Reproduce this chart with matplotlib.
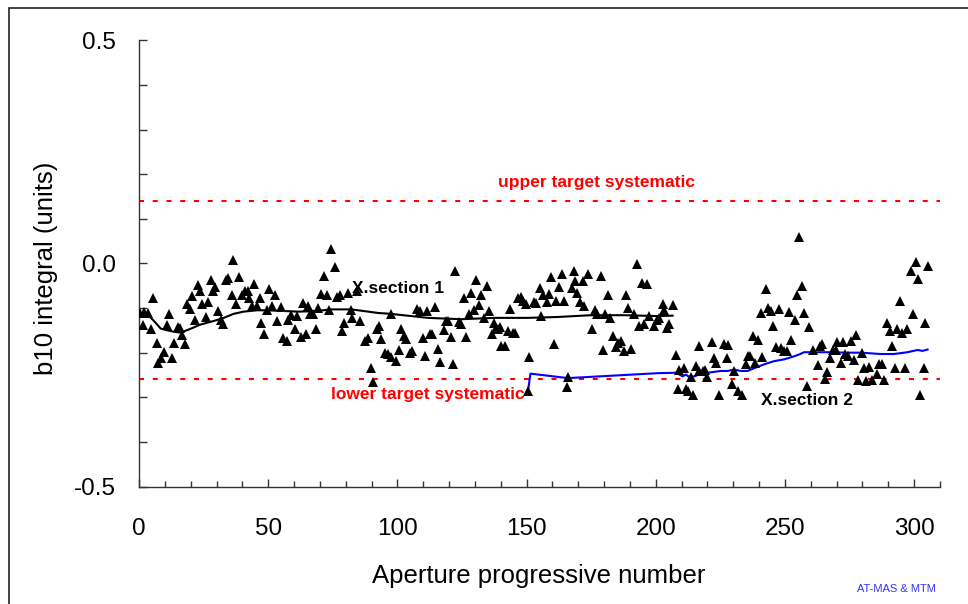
import matplotlib
matplotlib.use("Agg")
import matplotlib.pyplot as plt
from matplotlib.patches import Rectangle
from matplotlib.ticker import MultipleLocator

plt.rcParams["font.family"] = ["Liberation Sans", "DejaVu Sans"]

# aperture data, cross-section 1
sec1_x = [0.4, 1.7, 2.1, 3.6, 4.5, 5.5, 6.8, 7.5, 8.5, 9.8, 10.7, 11.7, 12.6, 13.5, 15.0, 15.9,
          16.5, 17.8, 18.4, 19.7, 20.6, 21.6, 22.7, 23.6, 24.5, 25.8, 26.6, 27.8, 28.7, 29.4,
          30.7, 31.7, 32.4, 33.5, 34.5, 35.8, 36.5, 37.4, 38.8, 39.7, 41.0, 42.1, 42.5, 43.6,
          44.6, 45.5, 46.8, 47.4, 48.5, 49.6, 50.3, 51.5, 52.6, 53.5, 54.8, 55.8, 57.1, 57.7,
          59.0, 60.3, 61.2, 62.6, 63.5, 64.8, 65.5, 66.1, 67.4, 68.4, 69.3, 70.4, 71.5, 72.8,
          73.4, 74.5, 75.8, 76.8, 77.7, 78.6, 79.4, 80.7, 82.0, 82.6, 84.2, 85.4, 87.4, 88.7,
          89.7, 90.6, 92.3, 93.0, 93.8, 95.1, 96.4, 97.4, 97.7, 99.6, 100.5, 101.5, 102.6,
          103.5, 104.8, 105.7, 107.7, 108.6, 109.9, 110.5, 111.5, 112.5, 113.5, 114.4, 115.7,
          116.6, 117.9, 118.7, 119.6, 120.9, 121.5, 122.4, 123.7, 124.5, 125.8, 126.7, 127.6,
          128.6, 129.6, 130.5, 131.4, 132.5, 133.7, 134.8, 135.6, 136.6, 137.4, 138.2, 139.1,
          139.9, 140.2, 141.5, 142.8, 143.4, 144.7, 145.6, 146.7, 147.7, 148.6, 149.6, 150.8,
          152.8, 153.7, 155.0, 155.4, 156.3, 157.8, 158.5, 159.5, 160.5, 161.5, 162.7, 163.6,
          164.4, 167.5, 168.5, 168.8, 169.6, 170.8, 171.7, 172.4, 173.7, 175.4, 176.6, 177.3,
          178.9, 179.6, 180.5, 181.7, 182.4, 183.3, 184.6, 185.3, 186.6, 187.6, 188.5, 189.4,
          190.4, 191.5, 192.8, 193.7, 194.6, 195.6, 196.6, 197.5, 199.2, 200.5, 201.4, 202.7,
          203.3, 204.4, 205.0, 206.5]
sec1_y = [-0.111, -0.137, -0.108, -0.111, -0.148, -0.077, -0.178, -0.223, -0.211, -0.198, -0.137,
          -0.113, -0.213, -0.178, -0.143, -0.145, -0.161, -0.180, -0.092, -0.101, -0.073, -0.126,
          -0.049, -0.061, -0.090, -0.120, -0.087, -0.038, -0.062, -0.053, -0.107, -0.126, -0.135,
          -0.038, -0.032, -0.070, 0.007, -0.092, -0.030, -0.070, -0.061, -0.062, -0.078, -0.096,
          -0.046, -0.096, -0.078, -0.133, -0.159, -0.105, -0.058, -0.096, -0.070, -0.129, -0.098,
          -0.168, -0.174, -0.126, -0.116, -0.146, -0.118, -0.165, -0.088, -0.158, -0.096, -0.114,
          -0.113, -0.148, -0.099, -0.068, -0.028, -0.070, -0.105, 0.033, -0.008, -0.076, -0.071,
          -0.152, -0.133, -0.066, -0.105, -0.123, -0.062, -0.129, -0.173, -0.168, -0.234, -0.265,
          -0.146, -0.140, -0.170, -0.200, -0.204, -0.210, -0.113, -0.219, -0.195, -0.146, -0.163,
          -0.170, -0.200, -0.196, -0.101, -0.107, -0.167, -0.208, -0.107, -0.159, -0.159, -0.098,
          -0.191, -0.220, -0.150, -0.129, -0.129, -0.165, -0.225, -0.016, -0.131, -0.135, -0.078,
          -0.165, -0.113, -0.066, -0.105, -0.036, -0.093, -0.070, -0.122, -0.051, -0.107, -0.158,
          -0.133, -0.144, -0.146, -0.143, -0.185, -0.185, -0.151, -0.102, -0.155, -0.155, -0.077,
          -0.076, -0.084, -0.090, -0.210, -0.086, -0.088, -0.055, -0.118, -0.070, -0.086, -0.068,
          -0.031, -0.180, -0.084, -0.052, -0.023, -0.084, -0.054, -0.016, -0.040, -0.066, -0.086,
          -0.040, -0.096, -0.024, -0.146, -0.105, -0.113, -0.028, -0.193, -0.113, -0.070, -0.122,
          -0.163, -0.188, -0.178, -0.174, -0.196, -0.070, -0.099, -0.191, -0.114, -0.001, -0.140,
          -0.043, -0.135, -0.045, -0.118, -0.140, -0.126, -0.123, -0.090, -0.104, -0.145, -0.136,
          -0.093]

# aperture data, cross-section 2
sec2_x = [150.7, 165.7, 165.9, 207.8, 208.5, 209.1, 210.8, 211.7, 212.4, 213.6, 214.6, 215.5,
          216.6, 216.8, 218.1, 219.0, 220.0, 221.6, 222.4, 223.3, 224.6, 226.5, 227.5, 228.0,
          229.5, 230.4, 232.0, 233.2, 234.9, 235.6, 236.6, 237.5, 238.4, 239.7, 240.7, 241.3,
          242.6, 243.5, 244.5, 245.5, 246.4, 247.7, 248.3, 249.6, 250.6, 251.5, 252.2, 253.7,
          254.5, 255.5, 256.4, 257.4, 258.7, 259.4, 260.7, 262.6, 263.6, 264.5, 265.4, 266.4,
          267.4, 268.7, 269.7, 270.3, 271.6, 272.6, 273.1, 274.4, 275.5, 276.8, 277.4, 278.4,
          279.7, 280.4, 281.3, 282.6, 283.6, 285.5, 286.4, 287.7, 288.4, 289.4, 290.7, 291.3,
          292.6, 293.5, 294.5, 295.4, 296.4, 297.3, 298.6, 299.5, 300.8, 301.6, 302.2, 303.7,
          304.3, 305.2]
sec2_y = [-0.286, -0.277, -0.255, -0.206, -0.281, -0.239, -0.234, -0.281, -0.285, -0.254, -0.294,
          -0.230, -0.184, -0.240, -0.241, -0.238, -0.254, -0.176, -0.213, -0.223, -0.294, -0.181,
          -0.213, -0.183, -0.271, -0.241, -0.285, -0.294, -0.226, -0.207, -0.207, -0.163, -0.223,
          -0.172, -0.111, -0.210, -0.057, -0.099, -0.107, -0.141, -0.188, -0.102, -0.190, -0.196,
          -0.197, -0.109, -0.172, -0.126, -0.071, 0.059, -0.051, -0.111, -0.275, -0.143, -0.195,
          -0.228, -0.186, -0.180, -0.258, -0.244, -0.213, -0.195, -0.193, -0.176, -0.223, -0.176,
          -0.203, -0.207, -0.174, -0.216, -0.161, -0.261, -0.200, -0.235, -0.264, -0.233, -0.262,
          -0.248, -0.226, -0.226, -0.261, -0.133, -0.152, -0.184, -0.235, -0.148, -0.084, -0.156,
          -0.235, -0.148, -0.017, -0.113, 0.004, -0.034, -0.294, -0.235, -0.133, -0.006]

# running averages
avg1_x = [0, 1.9, 3.9, 5.8, 8.4, 11.0, 13.5, 16.1, 19.3, 23.8, 28.9, 32.8, 36.6, 40.5, 45.7,
          49.6, 61.6, 68.0, 74.5, 82.2, 87.4, 92.5, 97.7, 99.0, 111.8, 124.7, 137.6, 150.5,
          162.0, 175.0, 187.8, 200.7, 206.5]
avg1_y = [-0.111, -0.113, -0.118, -0.129, -0.146, -0.150, -0.153, -0.155, -0.148, -0.137, -0.129,
          -0.122, -0.113, -0.108, -0.105, -0.105, -0.108, -0.107, -0.103, -0.103, -0.107, -0.111,
          -0.113, -0.114, -0.122, -0.125, -0.122, -0.122, -0.120, -0.116, -0.116, -0.118, -0.117]

avg2_x = [150.5, 151.5, 166.0, 200.7, 207.8, 209.1, 210.4, 211.7, 213.0, 215.0, 217.5, 220.0,
          222.6, 225.2, 227.8, 230.4, 232.9, 235.5, 238.0, 242.0, 245.8, 249.7, 253.6, 255.5,
          257.4, 266.5, 274.2, 279.4, 287.0, 292.2, 297.4, 301.3, 303.2, 305.2]
avg2_y = [-0.288, -0.247, -0.257, -0.246, -0.245, -0.249, -0.253, -0.249, -0.255, -0.253, -0.247,
          -0.245, -0.243, -0.241, -0.241, -0.238, -0.241, -0.241, -0.235, -0.226, -0.219, -0.215,
          -0.208, -0.204, -0.199, -0.199, -0.200, -0.200, -0.203, -0.203, -0.199, -0.194, -0.196,
          -0.193]

upper_target = 0.14
lower_target = -0.26
y_ticks = [-0.5, 0.0, 0.5]
y_tick_labels = ["-0.5", "0.0", "0.5"]
x_ticks = [0, 50, 100, 150, 200, 250, 300]

fig = plt.figure(figsize=(9.68, 6.04), dpi=100, facecolor="white")
fig.patches.append(Rectangle((9 / 968, -0.2), 1.5, 1.2 - 8 / 604 + 0.0, transform=fig.transFigure,
                             fill=False, edgecolor="#222222", linewidth=1.2, figure=fig))

ax = fig.add_axes([139 / 968, 1 - 486.5 / 604, 801 / 968, 446.1 / 604])
ax.set_xlim(0, 310)
ax.set_ylim(-0.5, 0.5)

dash = (0, (2.4, 4.2))
ax.axhline(upper_target, color="#ff0000", linewidth=1.5, linestyle=dash, zorder=1)
ax.axhline(lower_target, color="#ff0000", linewidth=1.5, linestyle=dash, zorder=1)

ax.plot(sec1_x, sec1_y, linestyle="none", marker="^", markersize=6.5, color="black",
        markeredgewidth=0, zorder=3)
ax.plot(sec2_x, sec2_y, linestyle="none", marker="^", markersize=6.5, color="black",
        markeredgewidth=0, zorder=3)
ax.plot(avg1_x, avg1_y, color="black", linewidth=1.5, zorder=2)
ax.plot(avg2_x, avg2_y, color="#0000ff", linewidth=1.5, zorder=2)

ax.text(177, 0.182, "upper target systematic", color="#ff0000", fontsize=12.5,
        fontweight="bold", ha="center", va="center")
ax.text(111.7, -0.294, "lower target systematic", color="#ff0000", fontsize=12.5,
        fontweight="bold", ha="center", va="center", zorder=4)
ax.text(100.1, -0.056, "X.section 1", color="black", fontsize=12.5,
        fontweight="bold", ha="center", va="center", zorder=4)
ax.text(258.6, -0.307, "X.section 2", color="black", fontsize=12.5,
        fontweight="bold", ha="center", va="center", zorder=4)

for side in ["top", "right"]:
    ax.spines[side].set_visible(False)
for side in ["left", "bottom"]:
    ax.spines[side].set_linewidth(1.0)
    ax.spines[side].set_color("#333333")

ax.set_xticks(x_ticks)
ax.xaxis.set_minor_locator(MultipleLocator(10))
ax.set_yticks(y_ticks)
ax.set_yticklabels(y_tick_labels)
ax.yaxis.set_minor_locator(MultipleLocator(0.1))
ax.tick_params(axis="x", which="major", direction="in", length=6, width=1, pad=22.5,
               labelsize=17.5, colors="#333333", labelcolor="black")
ax.tick_params(axis="x", which="minor", direction="in", length=4, width=1, colors="#333333")
ax.tick_params(axis="y", which="both", direction="in", length=6, width=1, pad=16.5,
               labelsize=17.5, colors="#333333", labelcolor="black")

fig.text(539 / 968, 1 - 576 / 604, "Aperture progressive number", fontsize=18.5,
         ha="center", va="center")
fig.text(46 / 968, 1 - 268 / 604, "b10 integral (units)", fontsize=18.5, rotation=90,
         ha="center", va="center")
fig.text(896 / 968, 1 - 589 / 604, "AT-MAS & MTM", fontsize=8, color="#3333ff",
         ha="center", va="center")

fig.savefig("out.png", dpi=100, facecolor="white")
